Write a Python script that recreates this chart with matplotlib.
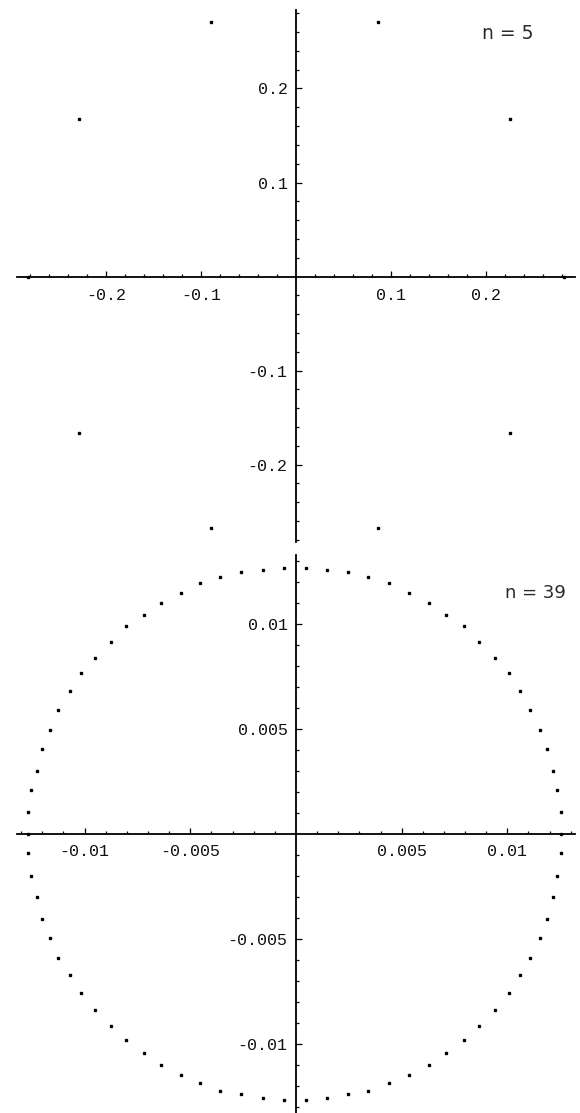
import matplotlib
matplotlib.use('Agg')
import matplotlib.pyplot as plt
import numpy as np

# roots plotted for n = 5
n5_x = [0.282, 0.225, 0.086, -0.089, -0.228, -0.282, -0.228, -0.089, 0.086, 0.225]
n5_y = [0.0, 0.168, 0.271, 0.271, 0.168, 0.0, -0.167, -0.268, -0.268, -0.167]

# roots plotted for n = 39, upper half (left to right)
n39_upper_x = [-0.01266, -0.01266, -0.01255, -0.01227, -0.01200, -0.01164, -0.01126,
               -0.01071, -0.01016, -0.00949, -0.00877, -0.00803, -0.00720, -0.00637,
               -0.00545, -0.00453, -0.00360, -0.00260, -0.00158, -0.00057,
               0.00046, 0.00148, 0.00248, 0.00341, 0.00442, 0.00535, 0.00628,
               0.00710, 0.00793, 0.00867, 0.00941, 0.01006, 0.01061, 0.01107,
               0.01153, 0.01189, 0.01217, 0.01235, 0.01254, 0.01256]
n39_upper_y = [0.0, 0.00105, 0.00209, 0.00300, 0.00402, 0.00496, 0.00588,
               0.00680, 0.00764, 0.00839, 0.00913, 0.00988, 0.01042, 0.01099,
               0.01145, 0.01193, 0.01221, 0.01248, 0.01256, 0.01267,
               0.01267, 0.01256, 0.01248, 0.01221, 0.01193, 0.01145, 0.01099,
               0.01042, 0.00988, 0.00913, 0.00839, 0.00764, 0.00680, 0.00588,
               0.00496, 0.00402, 0.00300, 0.00209, 0.00105, 0.0]

# lower half (left to right)
n39_lower_x = [-0.01266, -0.01255, -0.01227, -0.01200, -0.01164, -0.01126,
               -0.01071, -0.01016, -0.00949, -0.00877, -0.00803, -0.00720, -0.00637,
               -0.00545, -0.00453, -0.00360, -0.00260, -0.00158, -0.00057,
               0.00046, 0.00148, 0.00248, 0.00341, 0.00442, 0.00535, 0.00628,
               0.00710, 0.00793, 0.00867, 0.00941, 0.01006, 0.01061, 0.01107,
               0.01153, 0.01189, 0.01217, 0.01235, 0.01254]
n39_lower_y = [-0.00093, -0.00201, -0.00302, -0.00404, -0.00498, -0.00591,
               -0.00674, -0.00758, -0.00840, -0.00915, -0.00980, -0.01045, -0.01102,
               -0.01149, -0.01185, -0.01223, -0.01240, -0.01260, -0.01269,
               -0.01269, -0.01260, -0.01240, -0.01223, -0.01185, -0.01149, -0.01102,
               -0.01045, -0.00980, -0.00915, -0.00840, -0.00758, -0.00674, -0.00591,
               -0.00498, -0.00404, -0.00302, -0.00201, -0.00093]

n5_major = [-0.2, -0.1, 0.1, 0.2]
n5_labels = ['-0.2', '-0.1', '0.1', '0.2']
n39_major = [-0.01, -0.005, 0.005, 0.01]
n39_labels = ['-0.01', '-0.005', '0.005', '0.01']

W, H = 580, 1113
fig = plt.figure(figsize=(W / 100, H / 100), dpi=100)


def px_box(left, top, right, bottom):
    return [left / W, 1 - bottom / H, (right - left) / W, (bottom - top) / H]


def axes_through_origin(ax, xlim, ylim, major, labels, step, xpad, ypad):
    ax.set_xlim(*xlim)
    ax.set_ylim(*ylim)
    ax.patch.set_alpha(0)
    for side in ('top', 'right'):
        ax.spines[side].set_visible(False)
    for side in ('left', 'bottom'):
        ax.spines[side].set_position(('data', 0))
        ax.spines[side].set_linewidth(1.3)
        ax.spines[side].set_color('black')

    minor_x = [v for v in np.arange(-30, 31) * step
               if xlim[0] <= v <= xlim[1] and abs(v) > step / 2
               and not any(abs(v - m) < step / 2 for m in major)]
    minor_y = [v for v in np.arange(-30, 31) * step
               if ylim[0] <= v <= ylim[1] and abs(v) > step / 2
               and not any(abs(v - m) < step / 2 for m in major)]
    ax.set_xticks(major)
    ax.set_xticklabels(labels)
    ax.set_yticks(major)
    ax.set_yticklabels(labels)
    ax.set_xticks(minor_x, minor=True)
    ax.set_yticks(minor_y, minor=True)

    ax.tick_params(which='both', direction='in', width=0.9, color='black')
    ax.tick_params(which='major', length=4)
    ax.tick_params(which='minor', length=2.2)
    ax.tick_params(axis='x', which='major', pad=xpad)
    ax.tick_params(axis='y', which='major', pad=ypad)
    for lab in ax.get_xticklabels() + ax.get_yticklabels():
        lab.set_fontfamily('Liberation Mono')
        lab.set_fontsize(12)
        lab.set_color('#111111')


# upper panel, n = 5
ax1 = fig.add_axes(px_box(17, 10, 575, 541.7))
axes_through_origin(ax1, (-0.2937, 0.2937), (-0.2821, 0.2835),
                    n5_major, n5_labels, 0.02, 8.5, 6)
ax1.plot(n5_x, n5_y, linestyle='none', marker='s', ms=1.5, color='black',
         clip_on=False, zorder=3)
fig.text(481.5 / W, 1 - 39 / H, 'n = 5', family='DejaVu Sans', fontsize=13.5,
         color='#2a2a2a', ha='left', va='baseline')

# lower panel, n = 39
ax2 = fig.add_axes(px_box(16.7, 555, 575, 1113))
axes_through_origin(ax2, (-0.01321, 0.0132), (-0.0133, 0.01328),
                    n39_major, n39_labels, 0.001, 7, 6)
ax2.plot(n39_upper_x + n39_lower_x, n39_upper_y + n39_lower_y,
         linestyle='none', marker='s', ms=1.5, color='black',
         clip_on=False, zorder=3)
fig.text(505 / W, 1 - 597.5 / H, 'n = 39', family='DejaVu Sans', fontsize=13,
         color='#2a2a2a', ha='left', va='baseline')

fig.savefig('out.png', dpi=100, facecolor='white')
